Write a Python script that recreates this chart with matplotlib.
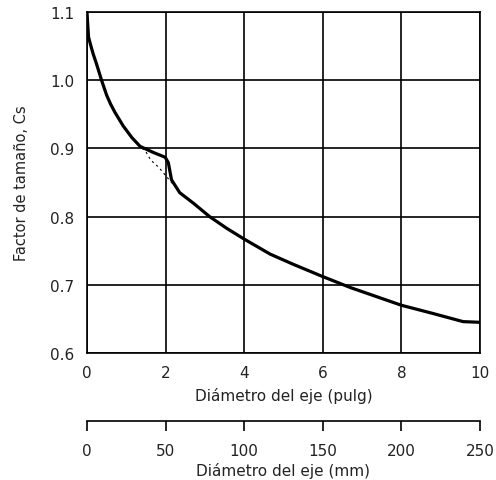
import matplotlib.pyplot as plt

plt.rcParams['font.family'] = ['DejaVu Sans']

# curva principal (factor de tamaño vs diámetro en pulg)
d_pulg = [0.0, 0.02, 0.04, 0.1, 0.16, 0.23, 0.29, 0.37, 0.5, 0.6, 0.71, 0.92, 1.14, 1.35, 1.69,
          1.99, 2.07, 2.15, 2.36, 2.7, 3.12, 3.55, 4.0, 4.66, 5.25, 6.0, 6.7, 7.3, 8.0, 8.8,
          9.57, 10.0]
cs = [1.1, 1.08, 1.063, 1.05, 1.038, 1.026, 1.015, 1.0, 0.978, 0.965, 0.953, 0.933, 0.916, 0.903,
      0.894, 0.887, 0.879, 0.854, 0.835, 0.82, 0.8, 0.783, 0.767, 0.745, 0.73, 0.712, 0.696,
      0.684, 0.67, 0.658, 0.646, 0.645]

# tramo punteado
d_punt = [1.4, 1.48, 1.62, 1.83, 2.09, 2.28]
cs_punt = [0.9, 0.897, 0.883, 0.872, 0.854, 0.842]

x_ticks = [0, 2, 4, 6, 8, 10]
y_ticks = [0.6, 0.7, 0.8, 0.9, 1.0, 1.1]
mm_ticks = [0, 50, 100, 150, 200, 250]

fig = plt.figure(figsize=(4.96, 4.81), dpi=100)
ax = fig.add_axes([87/496, 1-354/481, 393/496, 341/481])

ax.plot(d_pulg, cs, color='black', lw=2.3, solid_capstyle='butt')
ax.plot(d_punt, cs_punt, color='black', lw=0.8, ls=(0, (2, 3)))

ax.set_xlim(0, 10)
ax.set_ylim(0.6, 1.1)
ax.set_xticks(x_ticks)
ax.set_yticks(y_ticks)
ax.set_yticklabels(['%.1f' % v for v in y_ticks])
ax.grid(True, color='black', lw=1.2)
for s in ax.spines.values():
    s.set_linewidth(1.2)
ax.tick_params(length=0, labelsize=11, pad=9, labelcolor='#222222')
ax.set_xlabel('Diámetro del eje (pulg)', fontsize=11, labelpad=5, color='#222222')
ax.set_ylabel('Factor de tamaño, Cs', fontsize=10.5, labelpad=15, color='#222222')

ax2 = fig.add_axes([87/496, 1-422/481, 393/496, 0.0001])
for k in ['top', 'left', 'right']:
    ax2.spines[k].set_visible(False)
ax2.spines['bottom'].set_linewidth(1.2)
ax2.set_xlim(0, 250)
ax2.set_yticks([])
ax2.set_xticks(mm_ticks)
ax2.tick_params(axis='x', length=7, width=1.2, labelsize=11, pad=9, labelcolor='#222222')
ax2.set_xlabel('Diámetro del eje (mm)', fontsize=11, labelpad=3, color='#222222')
ax2.patch.set_visible(False)

fig.savefig('out.png', dpi=100)
